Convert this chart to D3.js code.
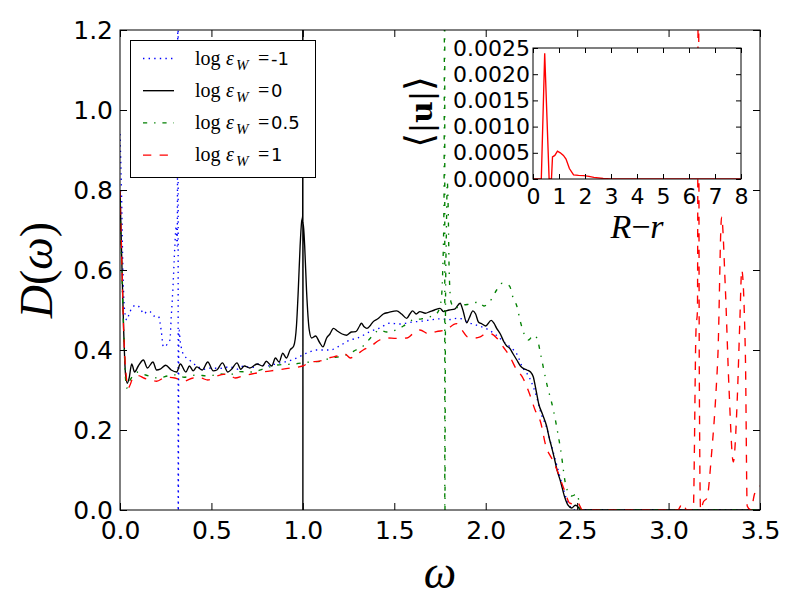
<!DOCTYPE html>
<html>
<head>
<meta charset="utf-8">
<script src="https://cdn.jsdelivr.net/npm/d3@7"></script>
<style>
  body { margin: 0; background: white; }
  svg { display: block; }
</style>
</head>
<body>
<script>
//Data: [omega, D(omega)]
const seriesM1 = [[0,0.94],[0.008,0.8],[0.015,0.62],[0.025,0.5],[0.037,0.475],[0.05,0.49],[0.065,0.505],[0.09,0.512],[0.11,0.505],[0.13,0.49],[0.15,0.497],[0.164,0.496],[0.185,0.485],[0.21,0.484],[0.225,0.45],[0.237,0.408],[0.25,0.41],[0.265,0.42],[0.273,0.425],[0.28,0.48],[0.29,0.56],[0.3,0.66],[0.307,0.71],[0.313,0.66],[0.318,1.6],[0.3181,-0.1],[0.322,0.45],[0.33,0.42],[0.346,0.39],[0.38,0.375],[0.42,0.36],[0.46,0.352],[0.5,0.355],[0.547,0.354],[0.6,0.358],[0.64,0.352],[0.675,0.36],[0.72,0.356],[0.76,0.365],[0.8,0.36],[0.857,0.366],[0.9,0.37],[0.94,0.375],[0.98,0.383],[1.02,0.392],[1.075,0.4],[1.12,0.4],[1.148,0.4],[1.2,0.41],[1.258,0.425],[1.3,0.43],[1.367,0.446],[1.42,0.455],[1.476,0.467],[1.53,0.465],[1.6,0.47],[1.65,0.472],[1.695,0.475],[1.75,0.478],[1.8,0.476],[1.84,0.479],[1.87,0.478],[1.9,0.47],[1.95,0.462],[2.0,0.454],[2.05,0.44],[2.1,0.42],[2.14,0.405],[2.17,0.39],[2.2,0.358],[2.24,0.33],[2.28,0.28],[2.3,0.245],[2.33,0.21],[2.36,0.16],[2.39,0.11],[2.42,0.06],[2.44,0.03],[2.46,0.01],[2.48,0.0],[3.5,0]];

const series0 = [[0,0.80],[0.01,0.62],[0.02,0.45],[0.03,0.34],[0.04,0.317],[0.05,0.33],[0.064,0.365],[0.08,0.345],[0.1,0.36],[0.128,0.375],[0.15,0.355],[0.18,0.37],[0.2,0.35],[0.22,0.352],[0.25,0.362],[0.28,0.35],[0.31,0.345],[0.33,0.365],[0.36,0.345],[0.38,0.36],[0.4,0.348],[0.42,0.358],[0.45,0.35],[0.48,0.37],[0.51,0.348],[0.53,0.35],[0.56,0.368],[0.59,0.345],[0.61,0.352],[0.64,0.368],[0.66,0.352],[0.68,0.36],[0.71,0.355],[0.75,0.365],[0.78,0.36],[0.80,0.372],[0.83,0.36],[0.85,0.38],[0.87,0.37],[0.89,0.392],[0.91,0.38],[0.93,0.40],[0.95,0.41],[0.965,0.46],[0.975,0.55],[0.985,0.66],[0.993,0.72],[0.999,0.735],[1.0,1.6],[1.0001,-0.1],[1.001,0.72],[1.01,0.66],[1.02,0.55],[1.035,0.45],[1.048,0.43],[1.07,0.435],[1.09,0.42],[1.11,0.408],[1.13,0.43],[1.148,0.44],[1.167,0.454],[1.19,0.447],[1.215,0.44],[1.24,0.437],[1.265,0.445],[1.29,0.446],[1.31,0.46],[1.32,0.467],[1.335,0.458],[1.35,0.454],[1.37,0.462],[1.385,0.471],[1.41,0.478],[1.44,0.49],[1.47,0.494],[1.513,0.498],[1.54,0.49],[1.568,0.479],[1.585,0.49],[1.6,0.498],[1.62,0.49],[1.64,0.496],[1.67,0.492],[1.695,0.496],[1.72,0.5],[1.75,0.504],[1.77,0.496],[1.8,0.5],[1.83,0.502],[1.86,0.517],[1.875,0.5],[1.896,0.468],[1.91,0.48],[1.93,0.498],[1.945,0.49],[1.96,0.47],[1.98,0.465],[2.0,0.46],[2.03,0.474],[2.045,0.467],[2.06,0.454],[2.08,0.44],[2.1,0.42],[2.115,0.41],[2.13,0.405],[2.15,0.39],[2.17,0.375],[2.19,0.36],[2.205,0.354],[2.225,0.35],[2.245,0.345],[2.26,0.333],[2.275,0.3],[2.29,0.265],[2.31,0.24],[2.333,0.21],[2.35,0.175],[2.36,0.158],[2.375,0.13],[2.39,0.1],[2.41,0.07],[2.43,0.035],[2.45,0.012],[2.47,0.005],[2.49,0.012],[2.5,0.01],[2.52,0.0],[3.5,0]];

const series05 = [[0,0.77],[0.01,0.6],[0.02,0.45],[0.03,0.33],[0.037,0.305],[0.05,0.32],[0.07,0.335],[0.1,0.345],[0.126,0.34],[0.16,0.335],[0.21,0.33],[0.26,0.335],[0.3,0.338],[0.35,0.332],[0.42,0.3375],[0.48,0.335],[0.55,0.34],[0.6,0.338],[0.65,0.346],[0.72,0.345],[0.8,0.355],[0.86,0.3625],[0.95,0.365],[1.04,0.37],[1.1,0.372],[1.15,0.38],[1.2,0.383],[1.25,0.39],[1.29,0.4],[1.33,0.41],[1.37,0.43],[1.42,0.45],[1.46,0.445],[1.51,0.45],[1.55,0.46],[1.6,0.475],[1.65,0.478],[1.695,0.483],[1.73,0.49],[1.755,0.52],[1.765,0.6],[1.772,0.78],[1.776,1.6],[1.7761,-0.1],[1.78,0.5],[1.785,0.7],[1.79,0.82],[1.795,0.75],[1.80,0.6],[1.81,0.52],[1.83,0.505],[1.877,0.5125],[1.92,0.515],[1.96,0.52],[1.99,0.51],[2.02,0.52],[2.06,0.55],[2.09,0.567],[2.13,0.56],[2.15,0.53],[2.17,0.51],[2.19,0.47],[2.21,0.44],[2.235,0.425],[2.26,0.437],[2.28,0.43],[2.3,0.39],[2.333,0.317],[2.37,0.25],[2.41,0.15],[2.44,0.058],[2.47,0.035],[2.5,0.04],[2.52,0.0],[3.5,0]];

const series1 = [[0,0.8],[0.01,0.62],[0.02,0.45],[0.035,0.33],[0.045,0.305],[0.055,0.3125],[0.07,0.33],[0.1,0.336],[0.13,0.33],[0.17,0.325],[0.2,0.322],[0.25,0.332],[0.3,0.33],[0.35,0.322],[0.4,0.33],[0.44,0.33],[0.48,0.325],[0.53,0.335],[0.59,0.34],[0.63,0.33],[0.67,0.335],[0.72,0.34],[0.78,0.345],[0.86,0.35],[0.93,0.355],[1.0,0.36],[1.04,0.37],[1.09,0.372],[1.14,0.38],[1.19,0.385],[1.23,0.39],[1.26,0.38],[1.29,0.387],[1.33,0.4],[1.367,0.408],[1.42,0.425],[1.46,0.43],[1.51,0.429],[1.57,0.43],[1.6,0.44],[1.64,0.45],[1.69,0.44],[1.73,0.446],[1.78,0.45],[1.84,0.466],[1.87,0.45],[1.9,0.433],[1.94,0.43],[1.97,0.433],[2.0,0.44],[2.03,0.44],[2.06,0.43],[2.1,0.405],[2.13,0.385],[2.17,0.35],[2.2,0.333],[2.24,0.29],[2.27,0.25],[2.3,0.22],[2.33,0.158],[2.36,0.13],[2.39,0.1],[2.43,0.05],[2.46,0.017],[2.48,0.015],[2.5,0.02],[2.53,0.0],[3.05,0.0],[3.077,0.017],[3.1,0.0],[3.135,0.0],[3.15,0.45],[3.158,0.5],[3.163,1.6],[3.168,0.35],[3.175,0.0],[3.19,0.02],[3.21,0.03],[3.235,0.14],[3.26,0.3],[3.27,0.39],[3.29,0.733],[3.31,0.56],[3.33,0.31],[3.354,0.12],[3.375,0.27],[3.39,0.475],[3.40,0.6],[3.42,0.39],[3.43,0.01],[3.45,0.0],[3.47,0.04],[3.5,0.06]];

const legendLabels = ["-1", "0", "0.5", "1"];
const xTicks = [0, 0.5, 1, 1.5, 2, 2.5, 3, 3.5];
const yTicks = [0, 0.2, 0.4, 0.6, 0.8, 1.0, 1.2];

//Inset data
const insetR = [0, 0.2, 0.32, 0.45, 0.62, 0.71, 0.75, 0.84, 0.94, 1.05, 1.17, 1.27, 1.4, 1.56, 1.75, 1.95, 2.15, 2.34, 2.7, 3.0, 8];
const insetU = [0, 0, 0, 0.0024, 0, 0, 0.00042, 0.00045, 0.00053, 0.0005, 0.00045, 0.00038, 0.0002, 0.00008, 0.00007, 0.000065, 0.00005, 0.00003, 0.00001, 0, 0];
const insetXTicks = [0, 1, 2, 3, 4, 5, 6, 7, 8];
const insetYTicks = [0, 0.0005, 0.001, 0.0015, 0.002, 0.0025];

//Variables
const width = 800;
const height = 600;
const plot = {left: 120, right: 760, top: 30, bottom: 510};
const inset = {left: 533, right: 741, top: 48, bottom: 179};

const styles = [
  {data: seriesM1, color: "#0000ff", dash: "1.4,4.2"},
  {data: series0, color: "#000000", dash: null},
  {data: series05, color: "#008000", dash: "4.2,6.9,1.4,6.9"},
  {data: series1, color: "#ff0000", dash: "8.3,8.3"}
];

const svg = d3.select("body").append("svg")
  .attr("width", width)
  .attr("height", height)
  .style("font-family", "'DejaVu Sans', sans-serif");

svg.append("rect").attr("width", width).attr("height", height).attr("fill", "white");

//Scales
const xScale = d3.scaleLinear().domain([0, 3.5]).range([plot.left, plot.right]);
const yScale = d3.scaleLinear().domain([0, 1.2]).range([plot.bottom, plot.top]);

svg.append("clipPath").attr("id", "clip-main")
  .append("rect")
  .attr("x", plot.left).attr("y", plot.top)
  .attr("width", plot.right - plot.left).attr("height", plot.bottom - plot.top);

//Lines (smoothed, the spectra are wavy rather than jagged)
const line = d3.line()
  .x(d => xScale(d[0]))
  .y(d => yScale(d[1]))
  .curve(d3.curveMonotoneX);
const lines = svg.append("g").attr("clip-path", "url(#clip-main)");
styles.forEach(s => {
  lines.append("path")
    .attr("d", line(s.data))
    .attr("fill", "none")
    .attr("stroke", s.color)
    .attr("stroke-width", 1.35)
    .attr("stroke-dasharray", s.dash);
});

//Axes (ticks pointing inward on all four sides)
const tick = 7;
const styleAxis = (g, size) => {
  g.select(".domain").remove();
  g.selectAll("line").attr("stroke", "black").attr("stroke-width", 1);
  g.selectAll("text").attr("fill", "black").style("font-size", size + "px").style("font-family", "'DejaVu Sans', sans-serif");
};

svg.append("g").attr("transform", `translate(0,${plot.bottom})`)
  .call(d3.axisBottom(xScale).tickValues(xTicks).tickSize(-tick).tickPadding(11).tickFormat(d3.format(".1f")))
  .call(g => styleAxis(g, 25));
svg.append("g").attr("transform", `translate(0,${plot.top})`)
  .call(d3.axisTop(xScale).tickValues(xTicks).tickSize(-tick).tickFormat(""))
  .call(g => styleAxis(g, 25));
svg.append("g").attr("transform", `translate(${plot.left},0)`)
  .call(d3.axisLeft(yScale).tickValues(yTicks).tickSize(-tick).tickPadding(7).tickFormat(d3.format(".1f")))
  .call(g => styleAxis(g, 25));
svg.append("g").attr("transform", `translate(${plot.right},0)`)
  .call(d3.axisRight(yScale).tickValues(yTicks).tickSize(-tick).tickFormat(""))
  .call(g => styleAxis(g, 25));

svg.append("rect")
  .attr("x", plot.left).attr("y", plot.top)
  .attr("width", plot.right - plot.left).attr("height", plot.bottom - plot.top)
  .attr("fill", "none").attr("stroke", "black").attr("stroke-width", 1);

//Axis labels
svg.append("text")
  .attr("x", 440).attr("y", 588)
  .attr("text-anchor", "middle")
  .style("font-family", "'Liberation Serif', serif")
  .style("font-style", "italic")
  .style("font-size", "46px")
  .text("ω");

svg.append("text")
  .attr("transform", "translate(52,270) rotate(-90)")
  .attr("text-anchor", "middle")
  .style("font-family", "'Liberation Serif', serif")
  .style("font-size", "46px")
  .call(t => {
    t.append("tspan").style("font-style", "italic").text("D");
    t.append("tspan").text("(");
    t.append("tspan").style("font-style", "italic").text("ω");
    t.append("tspan").text(")");
  });

//Legend
const legend = svg.append("g");
legend.append("rect")
  .attr("x", 130.5).attr("y", 40.5).attr("width", 185).attr("height", 137)
  .attr("fill", "white").attr("stroke", "black").attr("stroke-width", 1);

styles.forEach((s, i) => {
  const ly = 58.5 + i * 32.2;
  legend.append("line")
    .attr("x1", 143).attr("x2", 174).attr("y1", ly).attr("y2", ly)
    .attr("stroke", s.color).attr("stroke-width", 1.35)
    .attr("stroke-dasharray", s.dash);
  const t = legend.append("text").attr("y", ly + 6).style("font-family", "'Liberation Serif', serif").style("font-size", "20px");
  t.append("tspan").attr("x", 195).text("log");
  t.append("tspan").attr("x", 226).style("font-style", "italic").text("ε");
  t.append("tspan").attr("x", 236).attr("dy", 5).style("font-style", "italic").style("font-size", "15px").text("W");
  t.append("tspan").attr("x", 258).attr("dy", -5).text("=");
  t.append("tspan").attr("x", 271).style("font-family", "'DejaVu Sans', sans-serif").style("font-size", "18px").text(legendLabels[i]);
});

//Inset
const ix = d3.scaleLinear().domain([0, 8]).range([inset.left, inset.right]);
const iy = d3.scaleLinear().domain([0, 0.0025]).range([inset.bottom, inset.top]);

svg.append("rect")
  .attr("x", inset.left).attr("y", inset.top)
  .attr("width", inset.right - inset.left).attr("height", inset.bottom - inset.top)
  .attr("fill", "white");

svg.append("clipPath").attr("id", "clip-inset")
  .append("rect")
  .attr("x", inset.left).attr("y", inset.top)
  .attr("width", inset.right - inset.left).attr("height", inset.bottom - inset.top);

const insetLine = d3.line().x((d, i) => ix(insetR[i])).y(d => iy(d));
svg.append("path")
  .attr("clip-path", "url(#clip-inset)")
  .attr("d", insetLine(insetU))
  .attr("fill", "none").attr("stroke", "#ff0000").attr("stroke-width", 1.35);

const itick = 5;
svg.append("g").attr("transform", `translate(0,${inset.bottom})`)
  .call(d3.axisBottom(ix).tickValues(insetXTicks).tickSize(-itick).tickPadding(9).tickFormat(d3.format("d")))
  .call(g => styleAxis(g, 22));
svg.append("g").attr("transform", `translate(0,${inset.top})`)
  .call(d3.axisTop(ix).tickValues(insetXTicks).tickSize(-itick).tickFormat(""))
  .call(g => styleAxis(g, 22));
svg.append("g").attr("transform", `translate(${inset.left},0)`)
  .call(d3.axisLeft(iy).tickValues(insetYTicks).tickSize(-itick).tickPadding(3).tickFormat(d3.format(".4f")))
  .call(g => styleAxis(g, 22));
svg.append("g").attr("transform", `translate(${inset.right},0)`)
  .call(d3.axisRight(iy).tickValues(insetYTicks).tickSize(-itick).tickFormat(""))
  .call(g => styleAxis(g, 22));

svg.append("rect")
  .attr("x", inset.left).attr("y", inset.top)
  .attr("width", inset.right - inset.left).attr("height", inset.bottom - inset.top)
  .attr("fill", "none").attr("stroke", "black").attr("stroke-width", 1);

svg.append("text")
  .attr("x", 637).attr("y", 238)
  .attr("text-anchor", "middle")
  .style("font-family", "'Liberation Serif', serif")
  .style("font-size", "34px")
  .call(t => {
    t.append("tspan").style("font-style", "italic").text("R");
    t.append("tspan").text("−");
    t.append("tspan").style("font-style", "italic").text("r");
  });

svg.append("text")
  .attr("transform", "translate(432,112) rotate(-90)")
  .attr("text-anchor", "middle")
  .style("font-family", "'DejaVu Serif', serif")
  .style("font-size", "30px")
  .call(t => {
    t.append("tspan").style("font-size", "38px").text("⟨");
    t.append("tspan").text("|");
    t.append("tspan").style("font-weight", "bold").text("u");
    t.append("tspan").text("|");
    t.append("tspan").style("font-size", "38px").text("⟩");
  });
</script>
</body>
</html>
